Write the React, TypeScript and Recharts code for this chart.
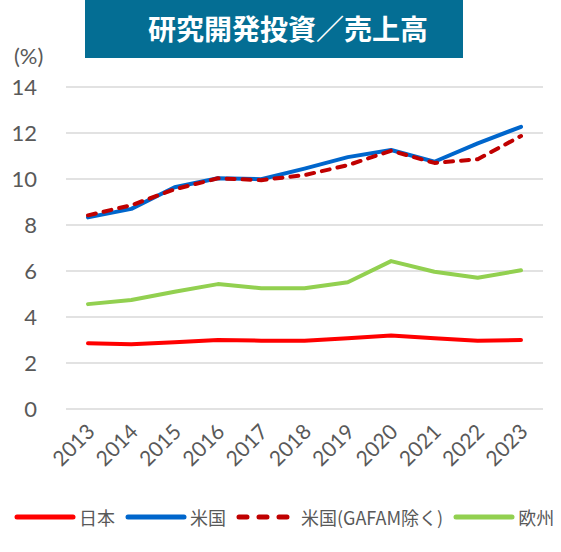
import { LineChart, Line, XAxis, YAxis, CartesianGrid } from "recharts";

const years = ["2013", "2014", "2015", "2016", "2017", "2018", "2019", "2020", "2021", "2022", "2023"];
const japan = [2.86, 2.81, 2.9, 3.0, 2.97, 2.97, 3.08, 3.2, 3.08, 2.97, 3.0];
const us = [8.33, 8.7, 9.64, 10.03, 9.99, 10.45, 10.95, 11.26, 10.75, 11.55, 12.27];
const usExGafam = [8.42, 8.86, 9.55, 10.03, 9.95, 10.17, 10.6, 11.23, 10.7, 10.86, 11.87];
const europe = [4.56, 4.74, 5.1, 5.43, 5.25, 5.25, 5.51, 6.43, 5.97, 5.71, 6.03];
const yTicks = [0, 2, 4, 6, 8, 10, 12, 14];

const data = years.map((year, i) => ({
  year,
  japan: japan[i],
  us: us[i],
  usExGafam: usExGafam[i],
  europe: europe[i],
}));

const TEXT = "#595959";
const FONT = "Lato, 'Noto Sans CJK JP', sans-serif";
const JP_FONT = "'Noto Sans CJK JP', sans-serif";

const series = [
  { key: "japan", label: "日本", color: "#FF0000", dash: undefined },
  { key: "us", label: "米国", color: "#0066CC", dash: undefined },
  { key: "usExGafam", label: "米国(GAFAM除く)", color: "#C00000", dash: "8 8" },
  { key: "europe", label: "欧州", color: "#92D050", dash: undefined },
];

function YTick(props: any) {
  const { y, payload } = props;
  return (
    <text x={37} y={y} dy={8} textAnchor="end" fill={TEXT} fontSize={22} fontFamily={FONT}>
      {payload.value}
    </text>
  );
}

function XTick(props: any) {
  const { x, y, payload } = props;
  const ax = x + 8;
  const ay = y + 16;
  return (
    <text
      x={ax}
      y={ay}
      textAnchor="end"
      fill={TEXT}
      fontSize={21}
      fontFamily={FONT}
      transform={`rotate(-45, ${ax}, ${ay})`}
    >
      {payload.value}
    </text>
  );
}

export default function App() {
  return (
    <div style={{ position: "absolute", left: 0, top: 0, width: 561, height: 552, background: "#fff" }}>
      <div
        style={{
          position: "absolute",
          left: 85,
          top: 0,
          width: 378,
          height: 58,
          background: "#046E94",
          color: "#fff",
          fontFamily: JP_FONT,
          fontWeight: 700,
          fontSize: 28,
          lineHeight: "56px",
          paddingLeft: 28,
          boxSizing: "border-box",
          textAlign: "center",
        }}
      >
        研究開発投資／売上高
      </div>
      <div
        style={{
          position: "absolute",
          left: 14,
          top: 42,
          fontFamily: FONT,
          fontSize: 22,
          color: TEXT,
        }}
      >
        (%)
      </div>
      <LineChart width={561} height={552} data={data} margin={{ top: 87, right: 18, bottom: 113, left: 0 }}>
        <CartesianGrid vertical={false} stroke="#D9D9D9" strokeWidth={1.5} />
        <XAxis
          dataKey="year"
          axisLine={false}
          tickLine={false}
          tick={<XTick />}
          interval={0}
          height={30}
          padding={{ left: 22, right: 22 }}
        />
        <YAxis
          width={66}
          domain={[0, 14]}
          ticks={yTicks}
          axisLine={false}
          tickLine={false}
          tick={<YTick />}
          interval={0}
        />
        {series.map((s) => (
          <Line
            key={s.key}
            dataKey={s.key}
            stroke={s.color}
            strokeWidth={4}
            strokeDasharray={s.dash}
            strokeLinecap="round"
            strokeLinejoin="round"
            dot={false}
            activeDot={false}
            isAnimationActive={false}
          />
        ))}
      </LineChart>
      <div
        style={{
          position: "absolute",
          left: 14,
          top: 504,
          width: 547,
          display: "flex",
          alignItems: "center",
          whiteSpace: "nowrap",
          fontFamily: JP_FONT,
          fontSize: 18,
          color: TEXT,
        }}
      >
        {series.map((s) => (
          <div key={s.key} style={{ display: "flex", alignItems: "center", marginRight: 10, flexShrink: 0 }}>
            <svg width={62} height={10}>
              <line
                x1={3}
                x2={59}
                y1={5}
                y2={5}
                stroke={s.color}
                strokeWidth={5}
                strokeLinecap="round"
                strokeDasharray={s.dash ? "8 12" : undefined}
              />
            </svg>
            <span style={{ marginLeft: 3 }}>{s.label}</span>
          </div>
        ))}
      </div>
    </div>
  );
}
